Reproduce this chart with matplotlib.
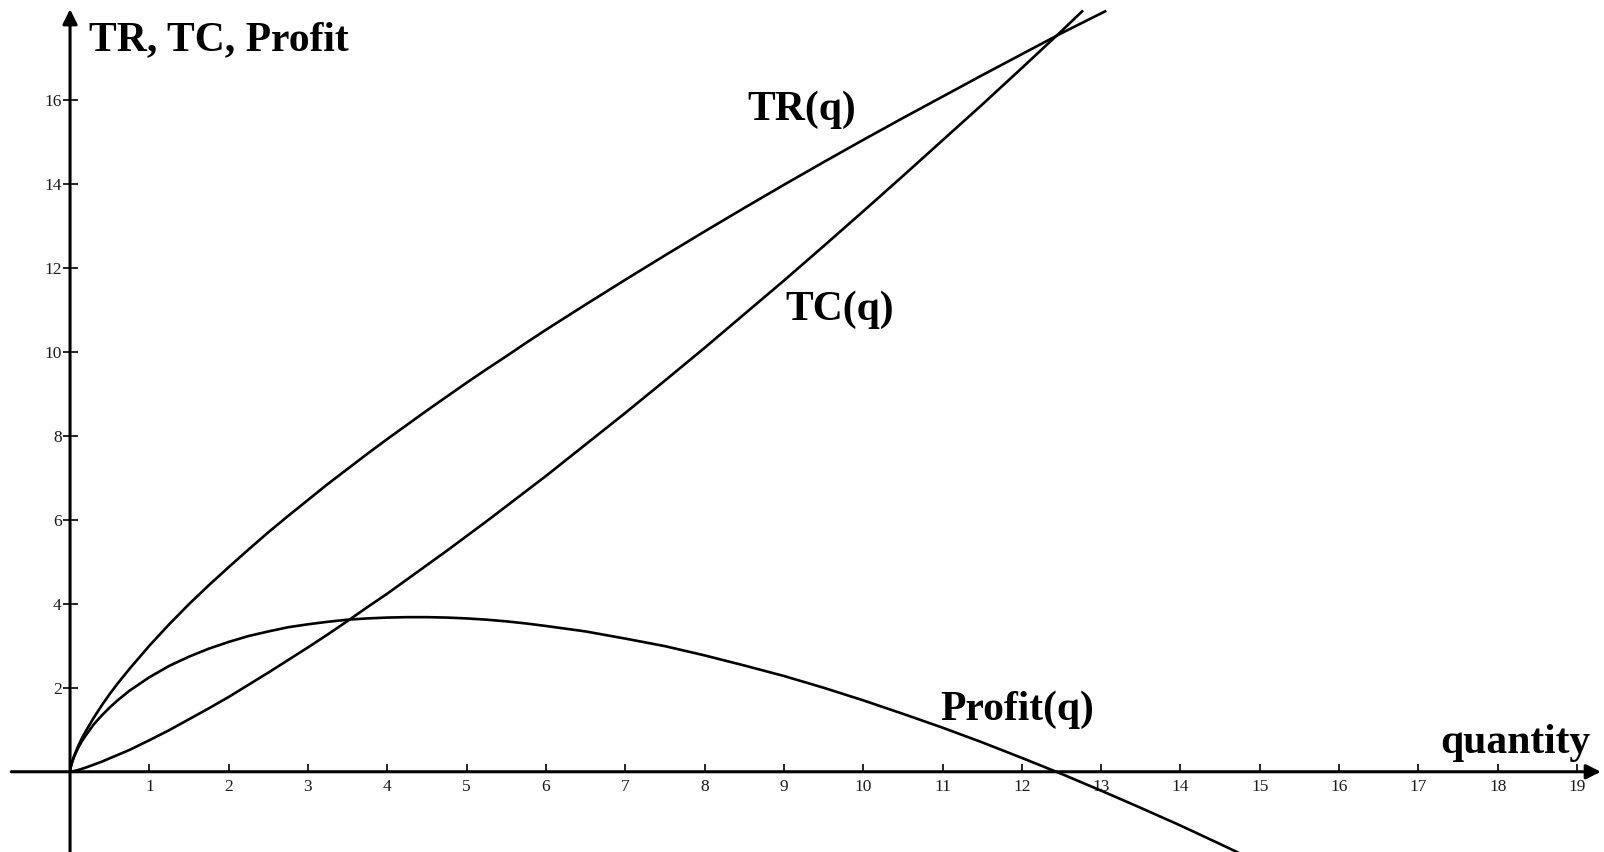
import matplotlib.pyplot as plt
import numpy as np

# values (quantity -> TR, TC, Profit)
q = [0, 0.01, 0.02, 0.03, 0.05, 0.1, 0.15, 0.2, 0.3, 0.4, 0.5, 0.6, 0.75, 1,
     1.25, 1.5, 1.75, 2, 2.25, 2.5, 2.75, 3, 3.25, 3.5, 3.75, 4, 4.25, 4.5,
     4.75, 5, 5.25, 5.5, 5.75, 6, 6.5, 7, 7.5, 8, 8.5, 9, 9.5, 10, 10.5, 11,
     11.5, 12, 12.5]
tr = [0, 0.12, 0.19, 0.26, 0.37, 0.60, 0.80, 0.97, 1.29, 1.58, 1.85, 2.10,
      2.45, 3.00, 3.51, 3.99, 4.44, 4.87, 5.29, 5.70, 6.09, 6.47, 6.85, 7.21,
      7.57, 7.92, 8.26, 8.60, 8.93, 9.26, 9.58, 9.89, 10.21, 10.52, 11.12,
      11.71, 12.29, 12.86, 13.42, 13.97, 14.51, 15.04, 15.56, 16.07, 16.58,
      17.08, 17.58]
tc = [0, 0.003, 0.006, 0.009, 0.018, 0.04, 0.07, 0.10, 0.17, 0.24, 0.32, 0.40,
      0.52, 0.75, 0.99, 1.25, 1.51, 1.78, 2.07, 2.36, 2.66, 2.96, 3.27, 3.59,
      3.92, 4.24, 4.58, 4.92, 5.26, 5.61, 5.96, 6.32, 6.68, 7.04, 7.79, 8.54,
      9.31, 10.09, 10.89, 11.69, 12.51, 13.34, 14.18, 15.03, 15.88, 16.75,
      17.63]
profit = [0, 0.12, 0.19, 0.25, 0.35, 0.56, 0.73, 0.87, 1.13, 1.34, 1.53, 1.70,
          1.93, 2.25, 2.52, 2.74, 2.93, 3.09, 3.23, 3.34, 3.44, 3.51, 3.57,
          3.62, 3.65, 3.67, 3.68, 3.68, 3.67, 3.65, 3.62, 3.58, 3.53, 3.47,
          3.34, 3.17, 2.99, 2.77, 2.53, 2.28, 2.00, 1.70, 1.38, 1.05, 0.70,
          0.33, -0.05]
# where the curves leave the picture
tr_end = ([13.05], [18.1])
tc_end = ([12.76], [18.1])
profit_end = ([13, 13.5, 14, 14.5, 15], [-0.45, -0.86, -1.28, -1.72, -2.17])

xticks = list(range(1, 20))
yticks = list(range(2, 17, 2))

serif = ['Liberation Serif', 'DejaVu Serif']

fig = plt.figure(figsize=(16.04, 8.52), dpi=100)
ax = fig.add_axes([0, 0, 1, 1])
ax.set_xlim(-0.883, 19.34)
ax.set_ylim(-1.91, 18.37)

lw = 1.9
ax.plot(q + tr_end[0], tr + tr_end[1], color='black', lw=lw)
ax.plot(q + tc_end[0], tc + tc_end[1], color='black', lw=lw)
ax.plot(q + profit_end[0], profit + profit_end[1], color='black', lw=lw)

# axes through the origin
for s in ['top', 'right']:
    ax.spines[s].set_visible(False)
ax.spines['left'].set_position(('data', 0))
ax.spines['bottom'].set_position(('data', 0))
ax.spines['left'].set_color('none')
ax.spines['bottom'].set_color('none')
ax.annotate('', xy=(19.3, 0), xytext=(-0.74, 0),
            arrowprops=dict(arrowstyle='-|>', lw=2.2, color='black', mutation_scale=22, shrinkA=0, shrinkB=0))
ax.annotate('', xy=(0, 18.15), xytext=(0, -1.95),
            arrowprops=dict(arrowstyle='-|>', lw=2.2, color='black', mutation_scale=22, shrinkA=0, shrinkB=0))

ax.set_xticks(xticks)
ax.set_yticks(yticks)
ax.tick_params(axis='x', direction='in', length=5.5, width=1.2, pad=5, labelsize=12.5, labelcolor='#1a1a1a')
ax.tick_params(axis='y', direction='inout', length=10.8, width=1.2, pad=0.5, labelsize=12.5, labelcolor='#1a1a1a')
for lab in ax.get_xticklabels() + ax.get_yticklabels():
    lab.set_family(serif)

tkw = dict(family=serif, fontweight='bold', fontsize=30, va='baseline', ha='left')
ax.text(0.24, 17.18, 'TR, TC, Profit', **tkw)
ax.text(8.54, 15.52, 'TR(q)', **tkw)
ax.text(9.02, 10.75, 'TC(q)', **tkw)
ax.text(10.97, 1.23, 'Profit(q)', **tkw)
ax.text(17.28, 0.445, 'quantity', **tkw)

plt.savefig('out.png', dpi=100)
